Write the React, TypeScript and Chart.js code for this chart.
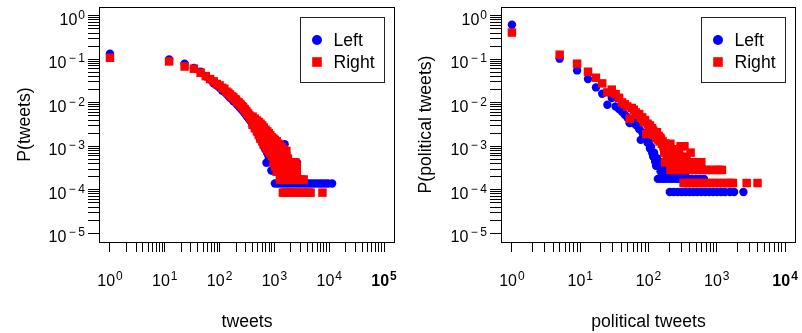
import React, { useEffect, useRef } from 'react';
import { Chart, registerables } from 'chart.js';

Chart.register(...registerables);

type Pt = [number, number];

// ---------- series meta ----------
const seriesLabels = ['Left', 'Right'];
const seriesColors = ['#0000ff', '#ff0000'];

// ---------- axes ----------
const tweetsDecades = [0, 1, 2, 3, 4, 5];
const politicalDecades = [0, 1, 2, 3, 4];
const probabilityDecades = [-5, -4, -3, -2, -1, 0];
const minorMultipliers = [1, 2, 3, 4, 5, 6, 7, 8, 9];
const panelXTitles = ['tweets', 'political tweets'];
const panelYTitles = ['P(tweets)', 'P(political tweets)'];

// ---------- panel 1: tweets ----------
const tweetsLeft: Pt[] = [
  [1, 0.134], [12, 0.099], [23, 0.079], [34, 0.063], [45, 0.052], [56, 0.040], [67, 0.034], [78, 0.028],
  [89, 0.025], [100, 0.022], [111, 0.019], [122, 0.018], [133, 0.016], [144, 0.0145], [155, 0.013],
  [166, 0.0125], [177, 0.011], [188, 0.0105], [199, 0.0098], [210, 0.0090], [221, 0.0086], [232, 0.0079],
  [243, 0.0075], [254, 0.0069], [265, 0.0066], [276, 0.0061], [287, 0.0058], [298, 0.0054], [309, 0.0051],
  [320, 0.0048], [331, 0.0046], [342, 0.0043], [353, 0.0041], [364, 0.0039], [375, 0.0037], [386, 0.0035],
  [400, 0.0040], [400, 0.0030], [440, 0.0036], [440, 0.0026], [480, 0.0032], [480, 0.0021],
  [520, 0.0029], [520, 0.0017], [550, 0.0014], [560, 0.0025], [560, 0.0014], [600, 0.0022], [600, 0.0012],
  [640, 0.0019], [640, 0.00097], [690, 0.0017], [690, 0.00083], [715, 0.000417], [740, 0.0015],
  [740, 0.00069], [790, 0.0013], [790, 0.000556], [840, 0.0011], [840, 0.000556], [880, 0.000278],
  [900, 0.00097], [900, 0.000417], [960, 0.00083], [960, 0.000278], [1020, 0.00069], [1100, 0.000556],
  [1100, 0.000278], [1180, 0.000417], [1260, 0.000278], [1535, 0.00111], [1700, 0.000278], [2590, 0.000417],
  [1020, 0.000139], [1150, 0.000139], [1310, 0.000139], [1480, 0.000139], [1680, 0.000139], [1900, 0.000139],
  [2150, 0.000139], [2450, 0.000139], [2760, 0.000139], [3100, 0.000139], [3530, 0.000139], [4000, 0.000139],
  [4520, 0.000139], [5100, 0.000139], [5800, 0.000139], [6600, 0.000139], [7430, 0.000139], [8400, 0.000139],
  [9500, 0.000139], [11300, 0.000139],
];

const tweetsRight: Pt[] = [
  [1, 0.108], [12, 0.089], [23, 0.068], [34, 0.0605], [45, 0.049], [56, 0.041], [67, 0.035], [78, 0.031],
  [89, 0.027], [100, 0.025], [111, 0.022], [122, 0.021], [133, 0.018], [144, 0.017], [155, 0.0155],
  [166, 0.014], [177, 0.0135], [188, 0.0122], [199, 0.0118], [210, 0.0105], [221, 0.0102], [232, 0.0094],
  [243, 0.0090], [254, 0.0083], [265, 0.0080], [276, 0.0073], [287, 0.0071], [298, 0.0065], [309, 0.0063],
  [320, 0.0058], [331, 0.0056], [342, 0.0051], [353, 0.0050], [364, 0.0046], [375, 0.0045], [386, 0.0041],
  [400, 0.0048], [400, 0.0039], [400, 0.0031], [440, 0.0043], [440, 0.0033], [440, 0.0026],
  [480, 0.0039], [480, 0.0029], [480, 0.0022], [520, 0.0036], [520, 0.0025], [520, 0.0018],
  [560, 0.0033], [560, 0.0022], [560, 0.0015], [600, 0.0030], [600, 0.0019], [600, 0.0013],
  [640, 0.0027], [640, 0.0017], [640, 0.0011], [690, 0.0024], [690, 0.0015], [690, 0.00095],
  [740, 0.0022], [740, 0.0013], [740, 0.00086], [790, 0.0020], [790, 0.0012], [790, 0.00078],
  [840, 0.0018], [840, 0.0011], [840, 0.00069], [900, 0.0016], [900, 0.00095], [900, 0.0006],
  [960, 0.0015], [960, 0.00086], [960, 0.00043], [1020, 0.0014], [1020, 0.00078], [1020, 0.00035],
  [1100, 0.0013], [1100, 0.00069], [1100, 0.00052], [1100, 0.00026],
  [1180, 0.00115], [1180, 0.0006], [1180, 0.00043], [1180, 0.00035],
  [1260, 0.00103], [1260, 0.00078], [1260, 0.00052], [1260, 0.00026], [1260, 0.000172],
  [1350, 0.00095], [1350, 0.00069], [1350, 0.00052], [1350, 0.00035], [1350, 0.000172],
  [1430, 0.000086], [1450, 0.00086], [1450, 0.0006], [1450, 0.00043], [1450, 0.00026], [1450, 0.000172],
  [1550, 0.00078], [1550, 0.00052], [1550, 0.00035], [1550, 0.000172], [1550, 0.000086],
  [1650, 0.00078], [1650, 0.0006], [1650, 0.00043], [1650, 0.00026], [1650, 0.000086],
  [1760, 0.00052], [1760, 0.00035], [1760, 0.000172], [1760, 0.000086],
  [1900, 0.00043], [1900, 0.00026], [1900, 0.000172], [1900, 0.000086],
  [2050, 0.00043], [2050, 0.00035], [2050, 0.000086],
  [2200, 0.00043], [2200, 0.00026], [2200, 0.000172], [2200, 0.000086],
  [2400, 0.00043], [2400, 0.00035], [2400, 0.00026], [2400, 0.000086],
  [2560, 0.00035], [2560, 0.00026], [2560, 0.000172],
  [2800, 0.000172], [2800, 0.000086], [3100, 0.000172], [3100, 0.000086], [3420, 0.000172], [3420, 0.000086],
  [3800, 0.000086], [4200, 0.000086], [4570, 0.000086], [7530, 0.000086],
];

// ---------- panel 2: political tweets ----------
const politicalLeft: Pt[] = [
  [1, 0.62], [5, 0.103], [9, 0.0553], [13, 0.0351], [17, 0.0225], [21, 0.0161], [25, 0.009], [29, 0.0129],
  [33, 0.0082], [37, 0.0072], [41, 0.0062], [45, 0.0053], [49, 0.0046], [53, 0.0034], [57, 0.0040],
  [61, 0.0036], [65, 0.0031], [69, 0.0029], [73, 0.0025], [77, 0.0014], [81, 0.0021], [85, 0.0018],
  [89, 0.0017], [93, 0.0015], [97, 0.0012], [101, 0.00125], [105, 0.00089], [109, 0.00098], [113, 0.00071],
  [117, 0.00058], [121, 0.00071], [125, 0.000445], [129, 0.000356], [133, 0.000534], [145, 0.000445],
  [175, 0.000445], [160, 0.000356], [190, 0.000356], [230, 0.000356], [150, 0.000267], [175, 0.000267],
  [210, 0.000267], [250, 0.000267], [300, 0.000267], [360, 0.000267],
  [137, 0.000178], [150, 0.000178], [165, 0.000178], [180, 0.000178], [200, 0.000178], [220, 0.000178],
  [245, 0.000178], [270, 0.000178], [300, 0.000178], [340, 0.000178], [380, 0.000178], [430, 0.000178],
  [500, 0.000178], [570, 0.000178], [650, 0.000178],
  [205, 0.000089], [234, 0.000089], [267, 0.000089], [305, 0.000089], [348, 0.000089], [398, 0.000089],
  [454, 0.000089], [519, 0.000089], [593, 0.000089], [678, 0.000089], [774, 0.000089], [885, 0.000089],
  [1010, 0.000089], [1154, 0.000089], [1318, 0.000089], [1556, 0.000089], [1795, 0.000089], [2455, 0.000089],
];

const politicalRight: Pt[] = [
  [1, 0.41], [5, 0.127], [9, 0.079], [13, 0.0516], [17, 0.0376], [21, 0.0278], [25, 0.0173], [29, 0.020],
  [33, 0.0158], [37, 0.013], [41, 0.0102], [45, 0.0092], [49, 0.0082], [53, 0.0043], [57, 0.0076],
  [61, 0.0069], [65, 0.0060], [69, 0.0052], [73, 0.0055], [77, 0.0045], [81, 0.0046], [85, 0.0036],
  [89, 0.0040], [93, 0.0019], [97, 0.0033], [101, 0.0029], [105, 0.0030], [109, 0.0024], [113, 0.0026],
  [117, 0.0023], [121, 0.0018], [125, 0.0021], [129, 0.00157], [133, 0.0021], [137, 0.00143], [141, 0.00172],
  [145, 0.00129], [149, 0.00157], [153, 0.00143], [157, 0.00114], [161, 0.00129], [165, 0.001], [169, 0.00114],
  [177, 0.00114], [185, 0.000857], [193, 0.001], [201, 0.000857], [209, 0.00114], [217, 0.000714],
  [225, 0.000857], [233, 0.000714], [241, 0.000571], [249, 0.000714], [261, 0.000571], [273, 0.000571],
  [295, 0.001], [336, 0.001], [280, 0.000714], [414, 0.000714], [170, 0.000714], [185, 0.000571],
  [218, 0.000571], [290, 0.000571], [320, 0.000571], [360, 0.000571],
  [175, 0.000429], [200, 0.000429], [230, 0.000429], [265, 0.000429], [300, 0.000429], [345, 0.000429],
  [400, 0.000429], [460, 0.000429], [520, 0.000429], [593, 0.000429],
  [210, 0.000286], [230, 0.000286], [255, 0.000286], [280, 0.000286], [310, 0.000286], [345, 0.000286],
  [385, 0.000286], [430, 0.000286], [480, 0.000286], [540, 0.000286], [610, 0.000286], [690, 0.000286],
  [780, 0.000286], [880, 0.000286], [1000, 0.000286], [1100, 0.000286], [1190, 0.000286],
  [326, 0.000143], [360, 0.000143], [400, 0.000143], [445, 0.000143], [500, 0.000143], [560, 0.000143],
  [625, 0.000143], [700, 0.000143], [790, 0.000143], [890, 0.000143], [1000, 0.000143], [1130, 0.000143],
  [1280, 0.000143], [1450, 0.000143], [1600, 0.000143], [1720, 0.000143], [2740, 0.000143], [3950, 0.000143],
];

// ---------- helpers ----------
const FONT = "'Liberation Sans', Arial, Helvetica, sans-serif";

function logTicks(decades: number[]) {
  const out: any[] = [];
  for (let i = 0; i < decades.length; i++) {
    const d = decades[i];
    if (i === decades.length - 1) {
      out.push({ value: Math.pow(10, d), major: true });
      break;
    }
    for (const m of minorMultipliers) out.push({ value: m * Math.pow(10, d), major: m === 1 });
  }
  return out;
}

function rangeOf(decades: number[]) {
  const lo = decades[0];
  const hi = decades[decades.length - 1];
  const pad = (hi - lo) * 0.04;
  return [Math.pow(10, lo - pad), Math.pow(10, hi + pad)];
}

function drawPower(ctx: any, e: number, ax: number, baseY: number, align: string, bold: boolean) {
  const w = bold ? 'bold ' : '';
  const baseFont = `${w}16px ${FONT}`;
  const supFont = `${w}12px ${FONT}`;
  ctx.font = baseFont;
  const w1 = ctx.measureText('10').width;
  ctx.font = supFont;
  const neg = e < 0;
  const digits = String(Math.abs(e));
  const pre = neg ? 2.5 : 1;
  const wm = neg ? ctx.measureText('\u2212').width + 2.5 : 0;
  const wd = ctx.measureText(digits).width;
  const total = w1 + pre + wm + wd;
  const x0 = align === 'center' ? ax - total / 2 : ax - total;
  ctx.textAlign = 'left';
  ctx.textBaseline = 'alphabetic';
  ctx.font = baseFont;
  ctx.fillText('10', x0, baseY);
  ctx.font = supFont;
  let xs = x0 + w1 + pre;
  if (neg) {
    ctx.fillText('\u2212', xs, baseY - 6);
    xs += wm;
  }
  ctx.fillText(digits, xs, baseY - 6);
}

const rStylePlugin = {
  id: 'rStyle',
  afterDraw(chart: any) {
    const { ctx, chartArea: a } = chart;
    const xs = chart.scales.x;
    const ys = chart.scales.y;
    ctx.save();
    // frame
    ctx.strokeStyle = '#000';
    ctx.lineWidth = 1;
    const L = Math.round(a.left), T = Math.round(a.top), R = Math.round(a.right), B = Math.round(a.bottom);
    ctx.strokeRect(L + 0.5, T + 0.5, R - L - 1, B - T);
    ctx.fillStyle = '#000';
    // x tick labels
    const xMaj = xs.ticks.filter((t: any) => t.major);
    xMaj.forEach((t: any, i: number) => {
      const e = Math.round(Math.log10(t.value));
      drawPower(ctx, e, xs.getPixelForValue(t.value), a.bottom + 44, 'center', i === xMaj.length - 1);
    });
    // y tick labels
    ys.ticks.filter((t: any) => t.major).forEach((t: any) => {
      const e = Math.round(Math.log10(t.value));
      drawPower(ctx, e, a.left - 14, ys.getPixelForValue(t.value) + 9, 'right', false);
    });
    // legend
    const bw = 84, bh = 65;
    const bx = R - 11 - bw;
    const by = T + 10;
    ctx.strokeStyle = '#222';
    ctx.strokeRect(bx + 0.5, by + 0.5, bw, bh);
    chart.data.datasets.forEach((ds: any, i: number) => {
      const cy = by + 23 + i * 22;
      const cx = bx + 17;
      ctx.fillStyle = ds.backgroundColor;
      if (ds.pointStyle === 'rect') {
        ctx.fillRect(cx - 4.8, cy - 4.8, 9.6, 9.6);
      } else {
        ctx.beginPath();
        ctx.arc(cx, cy, 5, 0, Math.PI * 2);
        ctx.fill();
      }
      ctx.fillStyle = '#000';
      ctx.font = `17.6px ${FONT}`;
      ctx.textAlign = 'left';
      ctx.textBaseline = 'alphabetic';
      ctx.fillText(ds.label, bx + 33.5, cy + 6.4);
    });
    ctx.restore();
  },
};

function makeChart(canvas: HTMLCanvasElement, leftPts: Pt[], rightPts: Pt[], xDecades: number[],
  xTitle: string, yTitle: string, yAxisWidth: number, padRight: number) {
  const [xMin, xMax] = rangeOf(xDecades);
  const [yMin, yMax] = rangeOf(probabilityDecades);
  const titleFont = { family: FONT, size: 17.6 };
  return new Chart(canvas, {
    type: 'scatter',
    data: {
      datasets: [
        {
          label: seriesLabels[0],
          data: leftPts.map(([x, y]) => ({ x, y })),
          backgroundColor: seriesColors[0],
          borderColor: seriesColors[0],
          pointStyle: 'circle',
          pointRadius: 4.2,
          pointHoverRadius: 4.2,
          pointBorderWidth: 0,
          order: 2,
        },
        {
          label: seriesLabels[1],
          data: rightPts.map(([x, y]) => ({ x, y })),
          backgroundColor: seriesColors[1],
          borderColor: seriesColors[1],
          pointStyle: 'rect',
          pointRadius: 6,
          pointHoverRadius: 6,
          pointBorderWidth: 0,
          order: 1,
        },
      ],
    },
    options: {
      animation: false,
      responsive: false,
      devicePixelRatio: 1,
      events: [],
      layout: { padding: { left: 0, right: padRight, top: 7, bottom: 0 } },
      plugins: { legend: { display: false }, tooltip: { enabled: false } },
      scales: {
        x: {
          type: 'logarithmic',
          position: 'bottom',
          bounds: 'data',
          min: xMin,
          max: xMax,
          afterBuildTicks: (s: any) => { s.ticks = logTicks(xDecades); },
          afterFit: (s: any) => { s.height = 91; },
          ticks: { display: false, autoSkip: false, maxRotation: 0 },
          grid: { drawOnChartArea: false, drawTicks: true, tickLength: 10, color: '#000', lineWidth: 1 },
          border: { display: false },
          title: { display: true, text: xTitle, color: '#000', font: titleFont, padding: { top: 0, bottom: 0 } },
        },
        y: {
          type: 'logarithmic',
          position: 'left',
          bounds: 'data',
          min: yMin,
          max: yMax,
          afterBuildTicks: (s: any) => { s.ticks = logTicks(probabilityDecades); },
          afterFit: (s: any) => { s.width = yAxisWidth; },
          ticks: { display: false, autoSkip: false, maxRotation: 0 },
          grid: { drawOnChartArea: false, drawTicks: true, tickLength: 11, color: '#000', lineWidth: 1 },
          border: { display: false },
          title: { display: true, text: yTitle, color: '#000', font: titleFont, padding: { top: 14.5, bottom: 0 } },
        },
      },
    } as any,
    plugins: [rStylePlugin],
  } as any);
}

export default function App() {
  const r1 = useRef<HTMLCanvasElement>(null);
  const r2 = useRef<HTMLCanvasElement>(null);
  useEffect(() => {
    const c1 = makeChart(r1.current!, tweetsLeft, tweetsRight, tweetsDecades, panelXTitles[0], panelYTitles[0], 99, 3);
    const c2 = makeChart(r2.current!, politicalLeft, politicalRight, politicalDecades, panelXTitles[1], panelYTitles[1], 100, 2);
    return () => { c1.destroy(); c2.destroy(); };
  }, []);
  return (
    <div style={{ position: 'absolute', left: 0, top: 0, width: 802, height: 333, background: '#fff' }}>
      <canvas ref={r1} width={401} height={333}
        style={{ position: 'absolute', left: 0, top: 0, width: 401, height: 333 }} />
      <canvas ref={r2} width={401} height={333}
        style={{ position: 'absolute', left: 401, top: 0, width: 401, height: 333 }} />
    </div>
  );
}
